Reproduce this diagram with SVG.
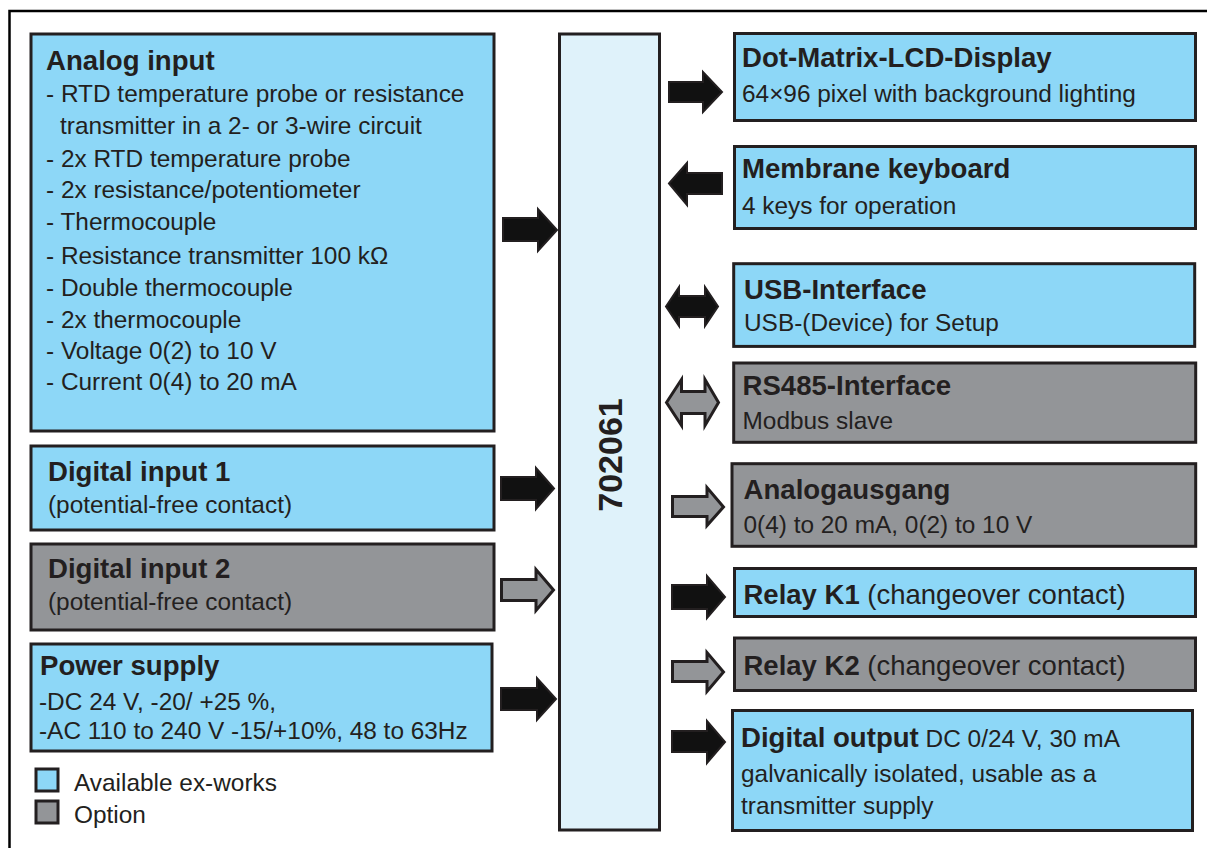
<svg xmlns="http://www.w3.org/2000/svg" width="1207" height="848" viewBox="0 0 1207 848">
<style>
.box{stroke:#231f20;stroke-width:3}
.blue{fill:#8dd7f7}
.gray{fill:#939598}
.core{fill:#dff2fa}
text{font-family:"Liberation Sans",Arial,sans-serif;fill:#231f20}
.t{font-size:27.6px;font-weight:bold}
.b{font-size:24.4px}
.r{font-size:27.5px}
.ab{fill:#111;stroke:#231f20;stroke-width:2;stroke-linejoin:miter}
.ag{fill:#939598;stroke:#231f20;stroke-width:3;stroke-linejoin:miter}
</style>
<rect width="1207" height="848" fill="#fff"/>
<path d="M9.5,849 V11 H1208" fill="none" stroke="#000" stroke-width="2.5"/>

<g id="analog-input">
<rect class="box blue" x="31" y="34" width="463" height="397"/>
<text class="t" x="46" y="70">Analog input</text>
<text class="b" x="46" y="102">- RTD temperature probe or resistance</text>
<text class="b" x="60" y="134">transmitter in a 2- or 3-wire circuit</text>
<text class="b" x="46" y="166.5">- 2x RTD temperature probe</text>
<text class="b" x="46" y="198">- 2x resistance/potentiometer</text>
<text class="b" x="46" y="229.5">- Thermocouple</text>
<text class="b" x="46" y="264">- Resistance transmitter 100 kΩ</text>
<text class="b" x="46" y="296">- Double thermocouple</text>
<text class="b" x="46" y="327.5">- 2x thermocouple</text>
<text class="b" x="46" y="359">- Voltage 0(2) to 10 V</text>
<text class="b" x="46" y="390">- Current 0(4) to 20 mA</text>
</g>

<g id="digital-input-1">
<rect class="box blue" x="31" y="446" width="463" height="84"/>
<text class="t" x="48" y="481">Digital input 1</text>
<text class="b" x="48" y="513">(potential-free contact)</text>
</g>

<g id="digital-input-2">
<rect class="box gray" x="31" y="544" width="463" height="86"/>
<text class="t" x="48" y="578">Digital input 2</text>
<text class="b" x="48" y="610">(potential-free contact)</text>
</g>

<g id="power-supply">
<rect class="box blue" x="31" y="644" width="461" height="107"/>
<text class="t" x="40" y="675">Power supply</text>
<text class="b" x="39" y="710">-DC 24 V, -20/ +25 %,</text>
<text class="b" x="39" y="739">-AC 110 to 240 V -15/+10%, 48 to 63Hz</text>
</g>

<g id="legend">
<rect class="box blue" x="36" y="769" width="22" height="22"/>
<text class="b" x="74" y="791">Available ex-works</text>
<rect class="box gray" x="36" y="801" width="22" height="22"/>
<text class="b" x="74" y="823">Option</text>
</g>

<g id="device-702061">
<rect class="box core" x="559.5" y="34" width="100" height="796"/>
<text transform="translate(622,455) rotate(-90)" text-anchor="middle" style="font-size:34px;font-weight:bold">702061</text>
</g>

<g id="lcd-display">
<rect class="box blue" x="734.5" y="33.5" width="461" height="87"/>
<text class="t" x="742" y="67">Dot-Matrix-LCD-Display</text>
<text class="b" x="742" y="102">64×96 pixel with background lighting</text>
</g>

<g id="membrane-keyboard">
<rect class="box blue" x="734.5" y="146.5" width="461" height="82"/>
<text class="t" x="742" y="178">Membrane keyboard</text>
<text class="b" x="742" y="213.5">4 keys for operation</text>
</g>

<g id="usb-interface">
<rect class="box blue" x="733.7" y="263.7" width="461" height="82.7"/>
<text class="t" x="744" y="298.5">USB-Interface</text>
<text class="b" x="744" y="331">USB-(Device) for Setup</text>
</g>

<g id="rs485-interface">
<rect class="box gray" x="733.7" y="363" width="462" height="79.3"/>
<text class="t" x="742.5" y="395">RS485-Interface</text>
<text class="b" x="742.5" y="428.5">Modbus slave</text>
</g>

<g id="analog-output">
<rect class="box gray" x="732" y="463.7" width="463.7" height="82.6"/>
<text class="t" x="743.5" y="498.5">Analogausgang</text>
<text class="b" x="743.5" y="532.5">0(4) to 20 mA, 0(2) to 10 V</text>
</g>

<g id="relay-k1">
<rect class="box blue" x="734.5" y="568.5" width="461" height="48"/>
<text class="r" x="743.5" y="603.5"><tspan font-weight="bold">Relay K1</tspan> (changeover contact)</text>
</g>

<g id="relay-k2">
<rect class="box gray" x="734.5" y="638" width="461" height="52.5"/>
<text class="r" x="743.5" y="675"><tspan font-weight="bold">Relay K2</tspan> (changeover contact)</text>
</g>

<g id="digital-output">
<rect class="box blue" x="732.5" y="710.5" width="460" height="120"/>
<text x="741" y="747"><tspan class="t">Digital output</tspan><tspan class="b"> DC 0/24 V, 30 mA</tspan></text>
<text class="b" x="741" y="782">galvanically isolated, usable as a</text>
<text class="b" x="741" y="813.5">transmitter supply</text>
</g>

<g id="connectors">
<polygon class="ab" points="503,218 538,218 538,209 557,230 538,251 538,241 503,241"/>
<polygon class="ab" points="501,477 536,477 536,468 554,488.5 536,509 536,500 501,500"/>
<polygon class="ag" points="501.5,579.5 536,579.5 536,569.5 553.5,590 536,610.5 536,600.5 501.5,600.5"/>
<polygon class="ab" points="501,688 537,688 537,678 556,699 537,720 537,710 501,710"/>
<polygon class="ab" points="669,82 703,82 703,72 722,92 703,112 703,102 669,102"/>
<polygon class="ab" points="669,183.5 687,163 687,173 722,173 722,194 687,194 687,205"/>
<polygon class="ab" points="666,306.5 679,287 679,296 705,296 705,287 718,306.5 705,326 705,317 679,317 679,326"/>
<polygon class="ag" points="666.5,402.5 681.5,379.5 681.5,391.5 705,391.5 705,379.5 718.5,402.5 705,425.5 705,413.5 681.5,413.5 681.5,425.5"/>
<polygon class="ag" points="672.5,496.5 707,496.5 707,487.5 723.5,507 707,525.5 707,516.5 672.5,516.5"/>
<polygon class="ab" points="672,585 707,585 707,576 725,597 707,618 707,609 672,609"/>
<polygon class="ag" points="672.5,661.5 707,661.5 707,652.5 723.5,672 707,691.5 707,681.5 672.5,681.5"/>
<polygon class="ab" points="672,731 707,731 707,721 725,742 707,763 707,752 672,752"/>
</g>
</svg>
